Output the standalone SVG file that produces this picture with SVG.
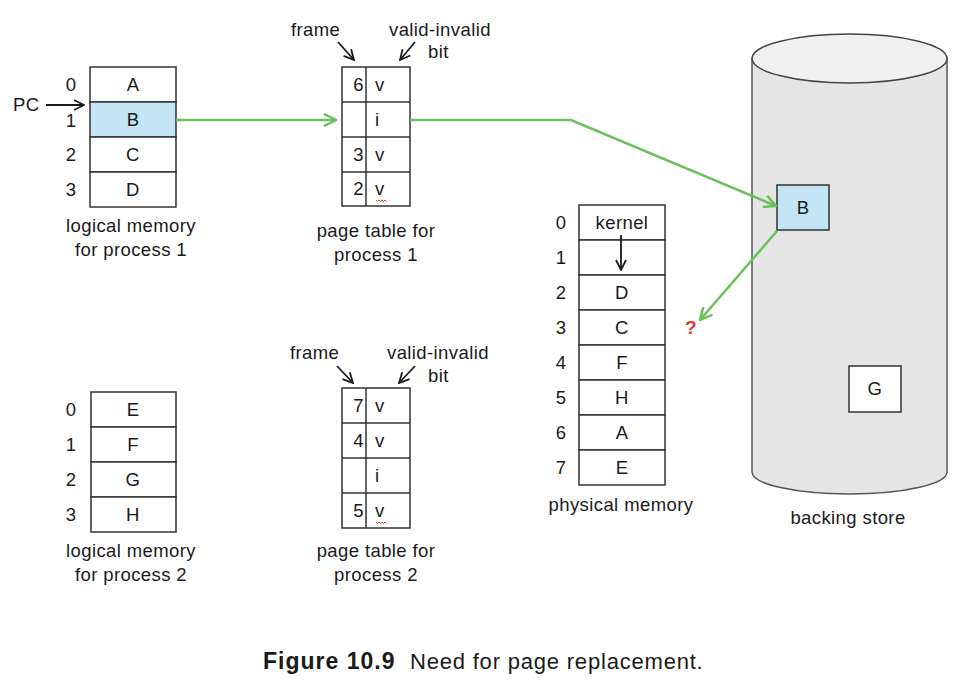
<svg xmlns="http://www.w3.org/2000/svg" width="977" height="685" viewBox="0 0 977 685">
<defs>
<style>
text{font-family:"Liberation Sans",Arial,sans-serif;font-size:18.5px;fill:#1a1a1a;letter-spacing:0.4px}
.c{text-anchor:middle}
.r{text-anchor:end}
.cell{fill:#fff;stroke:#333;stroke-width:1.5}
.hl{fill:#c3e5f6;stroke:#333;stroke-width:1.5}
.ln{stroke:#333;stroke-width:1.5;fill:none}
.blk{stroke:#1a1a1a;stroke-width:1.8;fill:none}
.grn{stroke:#6cc05c;stroke-width:2.5;fill:none}
.sq{stroke:#e0382b;stroke-width:1;fill:none}
</style>
<marker id="ab" viewBox="0 0 12 12" refX="11" refY="6" markerWidth="12" markerHeight="12" markerUnits="userSpaceOnUse" orient="auto">
<path d="M1,1 L11,6 L1,11" fill="none" stroke="#1a1a1a" stroke-width="1.8"/>
</marker>
<marker id="ag" viewBox="0 0 14 14" refX="13" refY="7" markerWidth="14" markerHeight="14" markerUnits="userSpaceOnUse" orient="auto">
<path d="M1,1 L13,7 L1,13" fill="none" stroke="#6cc05c" stroke-width="2.5"/>
</marker>
</defs>
<rect width="977" height="685" fill="#fff"/>

<g id="logical-memory-1">
<rect class="cell" x="90" y="67" width="86" height="35"/>
<rect class="hl" x="90" y="102" width="86" height="35"/>
<rect class="cell" x="90" y="137" width="86" height="35"/>
<rect class="cell" x="90" y="172" width="86" height="35"/>
<text class="c" x="133" y="91">A</text>
<text class="c" x="133" y="126">B</text>
<text class="c" x="133" y="161">C</text>
<text class="c" x="133" y="196">D</text>
<text class="c" x="71" y="91">0</text>
<text class="c" x="71" y="127">1</text>
<text class="c" x="71" y="161">2</text>
<text class="c" x="71" y="196">3</text>
<text x="13" y="111">PC</text>
<line class="blk" x1="46" y1="105" x2="84" y2="105" marker-end="url(#ab)"/>
<text class="c" x="131" y="232">logical memory</text>
<text class="c" x="131" y="256">for process 1</text>
</g>

<g id="page-table-1">
<rect class="cell" x="342" y="67" width="68" height="139"/>
<line class="ln" x1="366" y1="67" x2="366" y2="206"/>
<line class="ln" x1="342" y1="102" x2="410" y2="102"/>
<line class="ln" x1="342" y1="137" x2="410" y2="137"/>
<line class="ln" x1="342" y1="172" x2="410" y2="172"/>
<text class="r" x="364" y="91">6</text>
<text x="375" y="91">v</text>
<text x="375" y="126">i</text>
<text class="r" x="364" y="161">3</text>
<text x="375" y="161">v</text>
<text class="r" x="364" y="195">2</text>
<text x="375" y="195">v</text>
<path class="sq" d="M376,200 l1.5,1.5 l1.5,-1.5 l1.5,1.5 l1.5,-1.5 l1.5,1.5 l1.5,-1.5 l1.5,1.5"/>
<text x="291" y="36">frame</text>
<text x="389" y="36">valid-invalid</text>
<text x="428" y="58">bit</text>
<line class="blk" x1="338" y1="42" x2="354" y2="60" marker-end="url(#ab)"/>
<line class="blk" x1="415" y1="42" x2="400" y2="60" marker-end="url(#ab)"/>
<text class="c" x="376" y="237">page table for</text>
<text class="c" x="376" y="261">process 1</text>
</g>

<g id="logical-memory-2">
<rect class="cell" x="91" y="392" width="85" height="35"/>
<rect class="cell" x="91" y="427" width="85" height="35"/>
<rect class="cell" x="91" y="462" width="85" height="35"/>
<rect class="cell" x="91" y="497" width="85" height="35"/>
<text class="c" x="133" y="416">E</text>
<text class="c" x="133" y="451">F</text>
<text class="c" x="133" y="486">G</text>
<text class="c" x="133" y="521">H</text>
<text class="c" x="71" y="416">0</text>
<text class="c" x="71" y="451">1</text>
<text class="c" x="71" y="486">2</text>
<text class="c" x="71" y="521">3</text>
<text class="c" x="131" y="557">logical memory</text>
<text class="c" x="131" y="581">for process 2</text>
</g>

<g id="page-table-2">
<rect class="cell" x="342" y="388" width="68" height="140"/>
<line class="ln" x1="366" y1="388" x2="366" y2="528"/>
<line class="ln" x1="342" y1="423" x2="410" y2="423"/>
<line class="ln" x1="342" y1="458" x2="410" y2="458"/>
<line class="ln" x1="342" y1="493" x2="410" y2="493"/>
<text class="r" x="364" y="412">7</text>
<text x="375" y="412">v</text>
<text class="r" x="364" y="447">4</text>
<text x="375" y="447">v</text>
<text x="375" y="482">i</text>
<text class="r" x="364" y="517">5</text>
<text x="375" y="517">v</text>
<path class="sq" d="M376,522 l1.5,1.5 l1.5,-1.5 l1.5,1.5 l1.5,-1.5 l1.5,1.5 l1.5,-1.5 l1.5,1.5"/>
<text x="290" y="359">frame</text>
<text x="387" y="359">valid-invalid</text>
<text x="428" y="382">bit</text>
<line class="blk" x1="337" y1="366" x2="353" y2="383" marker-end="url(#ab)"/>
<line class="blk" x1="415" y1="366" x2="399" y2="383" marker-end="url(#ab)"/>
<text class="c" x="376" y="557">page table for</text>
<text class="c" x="376" y="581">process 2</text>
</g>

<g id="physical-memory">
<rect class="cell" x="579" y="205" width="86" height="35"/>
<rect class="cell" x="579" y="240" width="86" height="35"/>
<rect class="cell" x="579" y="275" width="86" height="35"/>
<rect class="cell" x="579" y="310" width="86" height="35"/>
<rect class="cell" x="579" y="345" width="86" height="35"/>
<rect class="cell" x="579" y="380" width="86" height="35"/>
<rect class="cell" x="579" y="415" width="86" height="35"/>
<rect class="cell" x="579" y="450" width="86" height="35"/>
<text class="c" x="622" y="229">kernel</text>
<line class="blk" x1="621" y1="235" x2="621" y2="270" marker-end="url(#ab)"/>
<text class="c" x="622" y="299">D</text>
<text class="c" x="622" y="334">C</text>
<text class="c" x="622" y="369">F</text>
<text class="c" x="622" y="404">H</text>
<text class="c" x="622" y="439">A</text>
<text class="c" x="622" y="474">E</text>
<text class="c" x="561" y="229">0</text>
<text class="c" x="561" y="264">1</text>
<text class="c" x="561" y="299">2</text>
<text class="c" x="561" y="334">3</text>
<text class="c" x="561" y="369">4</text>
<text class="c" x="561" y="404">5</text>
<text class="c" x="561" y="439">6</text>
<text class="c" x="561" y="474">7</text>
<text class="c" x="621" y="511">physical memory</text>
</g>

<g id="backing-store">
<path d="M752,58.5 L752,472 A97.5,22 0 0 0 947,472 L947,58.5 Z" fill="#e5e5e5" stroke="#555" stroke-width="1.5"/>
<ellipse cx="849.5" cy="58.5" rx="97.5" ry="24.5" fill="#f0f0f0" stroke="#444" stroke-width="1.5"/>
<text class="c" x="848" y="524">backing store</text>
</g>

<g id="store-B">
<rect class="hl" x="777" y="185" width="52" height="45"/>
<text class="c" x="803" y="214">B</text>
</g>

<g id="store-G">
<rect class="cell" x="849" y="366" width="52" height="46"/>
<text class="c" x="875" y="395">G</text>
</g>

<g id="connectors">
<line class="grn" x1="176" y1="120" x2="336" y2="120" marker-end="url(#ag)"/>
<polyline class="grn" points="410,120 571,120 776,206" marker-end="url(#ag)"/>
<line class="grn" x1="777" y1="231" x2="700" y2="320" marker-end="url(#ag)"/>
<text x="685" y="334" style="fill:#e0382b;font-weight:bold;font-size:19px">?</text>
</g>

<g id="caption">
<text x="263" y="669" style="font-weight:bold;font-size:23px;letter-spacing:1px">Figure 10.9</text>
<text x="410" y="669" style="font-size:22px;letter-spacing:0.8px">Need for page replacement.</text>
</g>
</svg>
